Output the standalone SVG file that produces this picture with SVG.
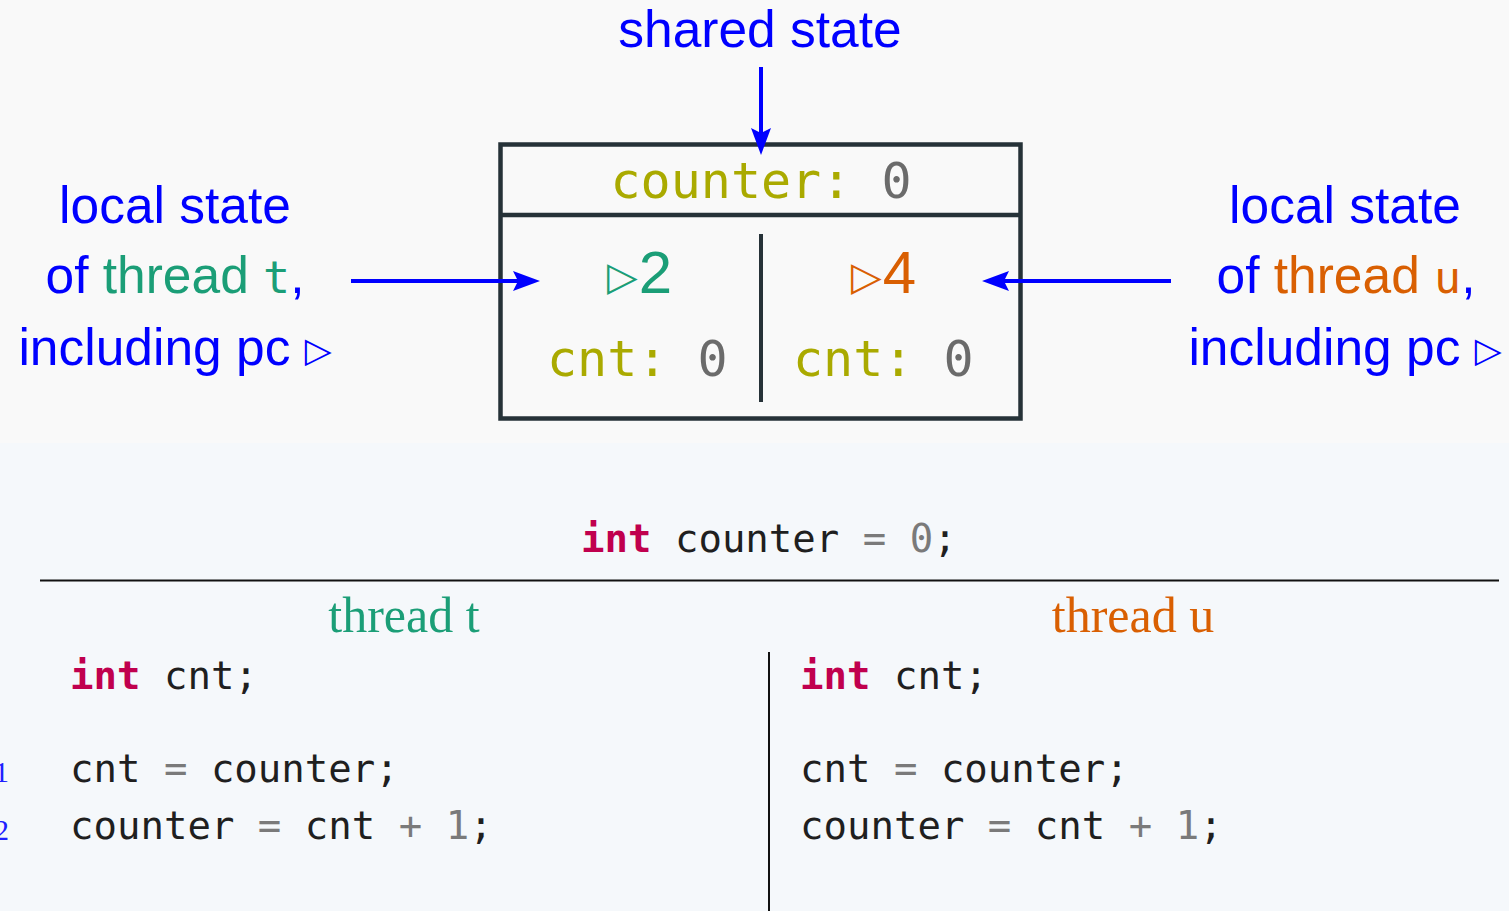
<svg xmlns="http://www.w3.org/2000/svg" width="1509" height="911" viewBox="0 0 1509 911">
<defs>
<style>
.lab{font-family:"Liberation Sans",Arial,sans-serif;font-size:51.5px;fill:#0000ff}
.mono{font-family:"DejaVu Sans Mono",monospace}
.box{font-family:"DejaVu Sans Mono",monospace;font-size:50px;fill:#aaaa00}
.gray0{fill:#6b6b6b}
.code{font-family:"DejaVu Sans Mono",monospace;font-size:39px;fill:#1f1f1f}
.kw{font-weight:bold;fill:#c0004e}
.op{fill:#7a7a7a}
.green{fill:#1b9e77}
.orange{fill:#d95f02}
.tri{font-family:"DejaVu Sans",sans-serif}
.hdr{font-family:"Liberation Serif","Times New Roman",serif;font-size:50px}
.conn{stroke:#0000ff;stroke-width:4;fill:none}
.frame{stroke:#263238;fill:none}
.lnum{font-family:"Liberation Serif",serif;font-size:30px;fill:#2020ff}
</style>
<marker id="ah" viewBox="-30 -12 32 24" markerWidth="32" markerHeight="24" refX="-22" refY="0" orient="auto" markerUnits="userSpaceOnUse">
<path d="M0,0 L-27,-10 L-22,0 L-27,10 Z" fill="#0000ff"/>
</marker>
</defs>
<rect x="0" y="0" width="1509" height="443" fill="#f9f9f9"/>
<rect x="0" y="443" width="1509" height="468" fill="#f5f8fb"/>

<g id="shared-label">
<text class="lab" x="760" y="47" text-anchor="middle">shared state</text>
</g>

<g id="left-label">
<text class="lab" x="175" y="223" text-anchor="middle">local state</text>
<text class="lab" x="175" y="293" text-anchor="middle">of <tspan class="green">thread </tspan><tspan class="mono green" font-size="45">t</tspan>,</text>
<text class="lab" x="175" y="365" text-anchor="middle">including pc <tspan class="tri" font-size="35" dy="-3">▷</tspan></text>
</g>

<g id="right-label">
<text class="lab" x="1345" y="223" text-anchor="middle">local state</text>
<text class="lab" x="1346" y="293" text-anchor="middle">of <tspan class="orange">thread </tspan><tspan class="mono orange" font-size="45">u</tspan>,</text>
<text class="lab" x="1345" y="365" text-anchor="middle">including pc <tspan class="tri" font-size="35" dy="-3">▷</tspan></text>
</g>

<g id="state-box">
<rect class="frame" x="500.5" y="144.5" width="520" height="274" stroke-width="4.5"/>
<line class="frame" x1="500" y1="215" x2="1021" y2="215" stroke-width="4.5"/>
<line class="frame" x1="761" y1="234" x2="761" y2="402" stroke-width="4"/>
<text class="box" x="761" y="198" text-anchor="middle">counter: <tspan class="gray0">0</tspan></text>
</g>

<g id="thread-t-state">
<text x="607" y="293" class="green"><tspan class="tri" font-size="40" dy="-3">▷</tspan><tspan font-family="Liberation Sans, Arial, sans-serif" font-size="60" dy="3" dx="1">2</tspan></text>
<text class="box" x="547" y="376">cnt: <tspan class="gray0">0</tspan></text>
</g>

<g id="thread-u-state">
<text x="851" y="293" class="orange"><tspan class="tri" font-size="40" dy="-3">▷</tspan><tspan font-family="Liberation Sans, Arial, sans-serif" font-size="60" dy="3" dx="1">4</tspan></text>
<text class="box" x="793" y="376">cnt: <tspan class="gray0">0</tspan></text>
</g>

<g id="connectors">
<line class="conn" x1="761" y1="67" x2="761" y2="133" marker-end="url(#ah)"/>
<line class="conn" x1="351" y1="281" x2="518" y2="281" marker-end="url(#ah)"/>
<line class="conn" x1="1171" y1="281" x2="1004" y2="281" marker-end="url(#ah)"/>
</g>

<g id="program">
<text class="code" x="581" y="552"><tspan class="kw">int</tspan> counter <tspan class="op">=</tspan> <tspan class="op">0</tspan>;</text>
<line x1="40" y1="580.5" x2="1499" y2="580.5" stroke="#111" stroke-width="2"/>
<line x1="769" y1="652" x2="769" y2="911" stroke="#111" stroke-width="2"/>
</g>

<g id="thread-t-code">
<text class="hdr green" x="404" y="632" text-anchor="middle">thread t</text>
<text class="code" x="70" y="689"><tspan class="kw">int</tspan> cnt;</text>
<text class="code" x="70" y="782">cnt <tspan class="op">=</tspan> counter;</text>
<text class="code" x="70" y="839">counter <tspan class="op">=</tspan> cnt <tspan class="op">+</tspan> <tspan class="op">1</tspan>;</text>
<text class="lnum" x="9" y="782" text-anchor="end">1</text>
<text class="lnum" x="9" y="840" text-anchor="end">2</text>
</g>

<g id="thread-u-code">
<text class="hdr orange" x="1133" y="632" text-anchor="middle">thread u</text>
<text class="code" x="800" y="689"><tspan class="kw">int</tspan> cnt;</text>
<text class="code" x="800" y="782">cnt <tspan class="op">=</tspan> counter;</text>
<text class="code" x="800" y="839">counter <tspan class="op">=</tspan> cnt <tspan class="op">+</tspan> <tspan class="op">1</tspan>;</text>
</g>
</svg>
